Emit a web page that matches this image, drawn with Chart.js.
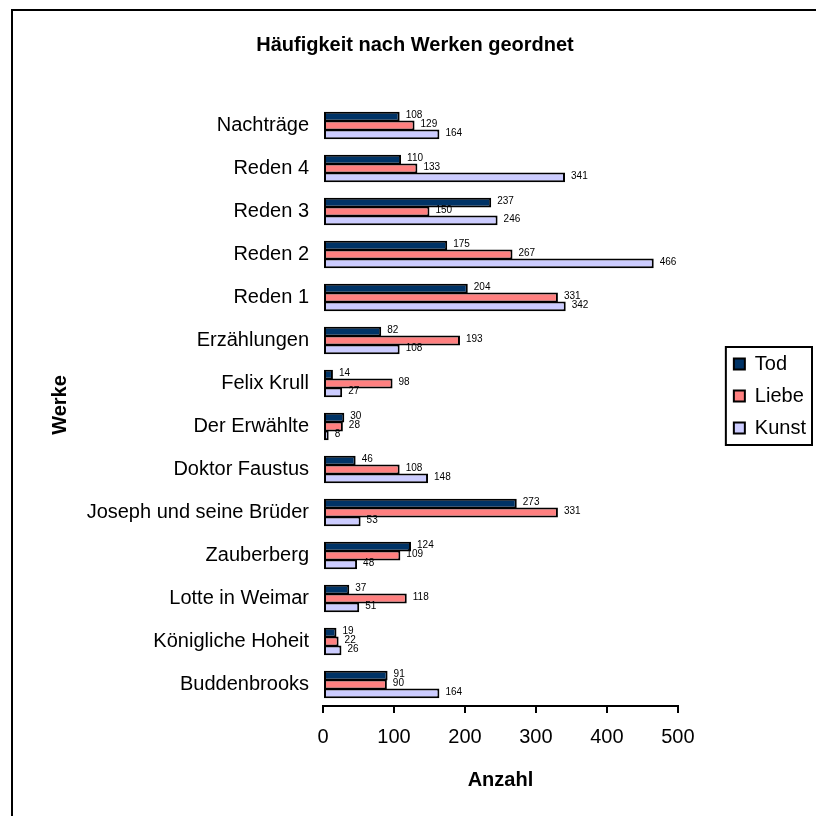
<!DOCTYPE html>
<html lang="de">
<head>
  <meta charset="UTF-8" />
  <title>Häufigkeit nach Werken geordnet</title>
  <script src="https://cdn.jsdelivr.net/npm/chart.js"></script>
  <style>
    html, body {
      margin: 0;
      padding: 0;
      background: #fff;
      overflow: hidden;
    }

    #wrap {
      position: relative;
      width: 816px;
      height: 816px;
    }

    canvas {
      position: absolute;
      left: 0;
      top: 0;
    }

    /* Rahmen um das ganze Diagramm (rechts und unten abgeschnitten) */
    #frame {
      position: absolute;
      left: 11px;
      top: 9px;
      width: 900px;
      height: 900px;
      border: 2px solid #000;
      pointer-events: none;
    }
  </style>
</head>
<body>
  <div id="wrap">
    <canvas id="werkeChart" width="816" height="816"></canvas>
    <div id="frame"></div>
  </div>

  <script>
    // Daten (von oben nach unten wie im Diagramm)
    const werke = [
      'Nachträge', 'Reden 4', 'Reden 3', 'Reden 2', 'Reden 1', 'Erzählungen',
      'Felix Krull', 'Der Erwählte', 'Doktor Faustus', 'Joseph und seine Brüder',
      'Zauberberg', 'Lotte in Weimar', 'Königliche Hoheit', 'Buddenbrooks'
    ];
    const tod   = [108, 110, 237, 175, 204,  82, 14, 30,  46, 273, 124,  37, 19,  91];
    const liebe = [129, 133, 150, 267, 331, 193, 98, 28, 108, 331, 109, 118, 22,  90];
    const kunst = [164, 341, 246, 466, 342, 108, 27,  8, 148,  53,  48,  51, 26, 164];
    const xTicks = [0, 100, 200, 300, 400, 500];

    Chart.defaults.font.family = '"Liberation Sans", Arial, sans-serif';
    Chart.defaults.color = '#000';

    // Zahlen rechts neben den Balken
    const valueLabels = {
      id: 'valueLabels',
      afterDatasetsDraw(chart) {
        const ctx = chart.ctx;
        ctx.save();
        ctx.font = '10px "Liberation Sans", Arial, sans-serif';
        ctx.fillStyle = '#000';
        ctx.textBaseline = 'middle';
        chart.data.datasets.forEach((ds, i) => {
          chart.getDatasetMeta(i).data.forEach((bar, j) => {
            ctx.fillText(String(ds.data[j]), bar.x + 6, bar.y - 1);
          });
        });
        ctx.restore();
      }
    };

    // Legende etwas nach oben schieben und einrahmen
    const legendFrame = {
      id: 'legendFrame',
      afterLayout(chart) {
        if (!chart.legend) return;
        chart.legend.top -= 5;
        chart.legend.bottom -= 5;
      },
      afterDraw(chart) {
        const hb = chart.legend && chart.legend.legendHitBoxes;
        if (!hb || !hb.length) return;
        const left = Math.min(...hb.map(h => h.left)) - 8;
        const right = Math.max(...hb.map(h => h.left + h.width)) + 6;
        const top = hb[0].top - 7;
        const bottom = hb[hb.length - 1].top + hb[hb.length - 1].height + 7;
        const ctx = chart.ctx;
        ctx.save();
        ctx.strokeStyle = '#000';
        ctx.lineWidth = 2;
        ctx.strokeRect(left, top, right - left, bottom - top);
        ctx.restore();
      }
    };

    const ctx = document.getElementById('werkeChart').getContext('2d');
    new Chart(ctx, {
      type: 'bar',
      data: {
        labels: werke,
        datasets: [
          { label: 'Tod',   data: tod,   backgroundColor: '#003366' },
          { label: 'Liebe', data: liebe, backgroundColor: '#FF8080' },
          { label: 'Kunst', data: kunst, backgroundColor: '#CCCCFF' }
        ]
      },
      options: {
        indexAxis: 'y',
        responsive: false,
        animation: false,
        layout: { padding: { left: 14, right: 0, top: 10, bottom: 24 } },
        datasets: {
          bar: {
            borderColor: '#000',
            borderWidth: 2,
            borderSkipped: false,
            categoryPercentage: 0.62,
            barPercentage: 1.1
          }
        },
        plugins: {
          title: {
            display: true,
            text: 'Häufigkeit nach Werken geordnet',
            font: { size: 20, weight: 'bold' },
            padding: { top: 23, bottom: 47 }
          },
          legend: {
            position: 'right',
            labels: {
              boxWidth: 11,
              boxHeight: 11,
              padding: 12,
              font: { size: 20 }
            }
          },
          tooltip: { enabled: false }
        },
        scales: {
          x: {
            min: xTicks[0],
            max: xTicks[xTicks.length - 1],
            ticks: { stepSize: xTicks[1] - xTicks[0], font: { size: 20 }, padding: 12 },
            grid: { drawOnChartArea: false, color: '#000', lineWidth: 2, tickLength: 7 },
            border: { color: '#000', width: 2 },
            title: {
              display: true,
              text: 'Anzahl',
              font: { size: 20, weight: 'bold' },
              padding: { top: 7, bottom: 0 }
            }
          },
          y: {
            grid: { display: false, drawTicks: false },
            border: { display: false },
            ticks: { font: { size: 20 }, padding: 14 },
            title: {
              display: true,
              text: 'Werke',
              font: { size: 20, weight: 'bold' },
              padding: { top: 34, bottom: 15 }
            },
            afterFit(scale) { scale.width = 309; }
          },
          // leerer Abstand zwischen Diagramm und Legende
          gap: {
            type: 'linear',
            axis: 'y',
            position: 'right',
            grid: { display: false, drawTicks: false },
            border: { display: false },
            ticks: { display: false },
            afterFit(scale) { scale.width = 44; }
          }
        }
      },
      plugins: [valueLabels, legendFrame]
    });
  </script>
</body>
</html>
